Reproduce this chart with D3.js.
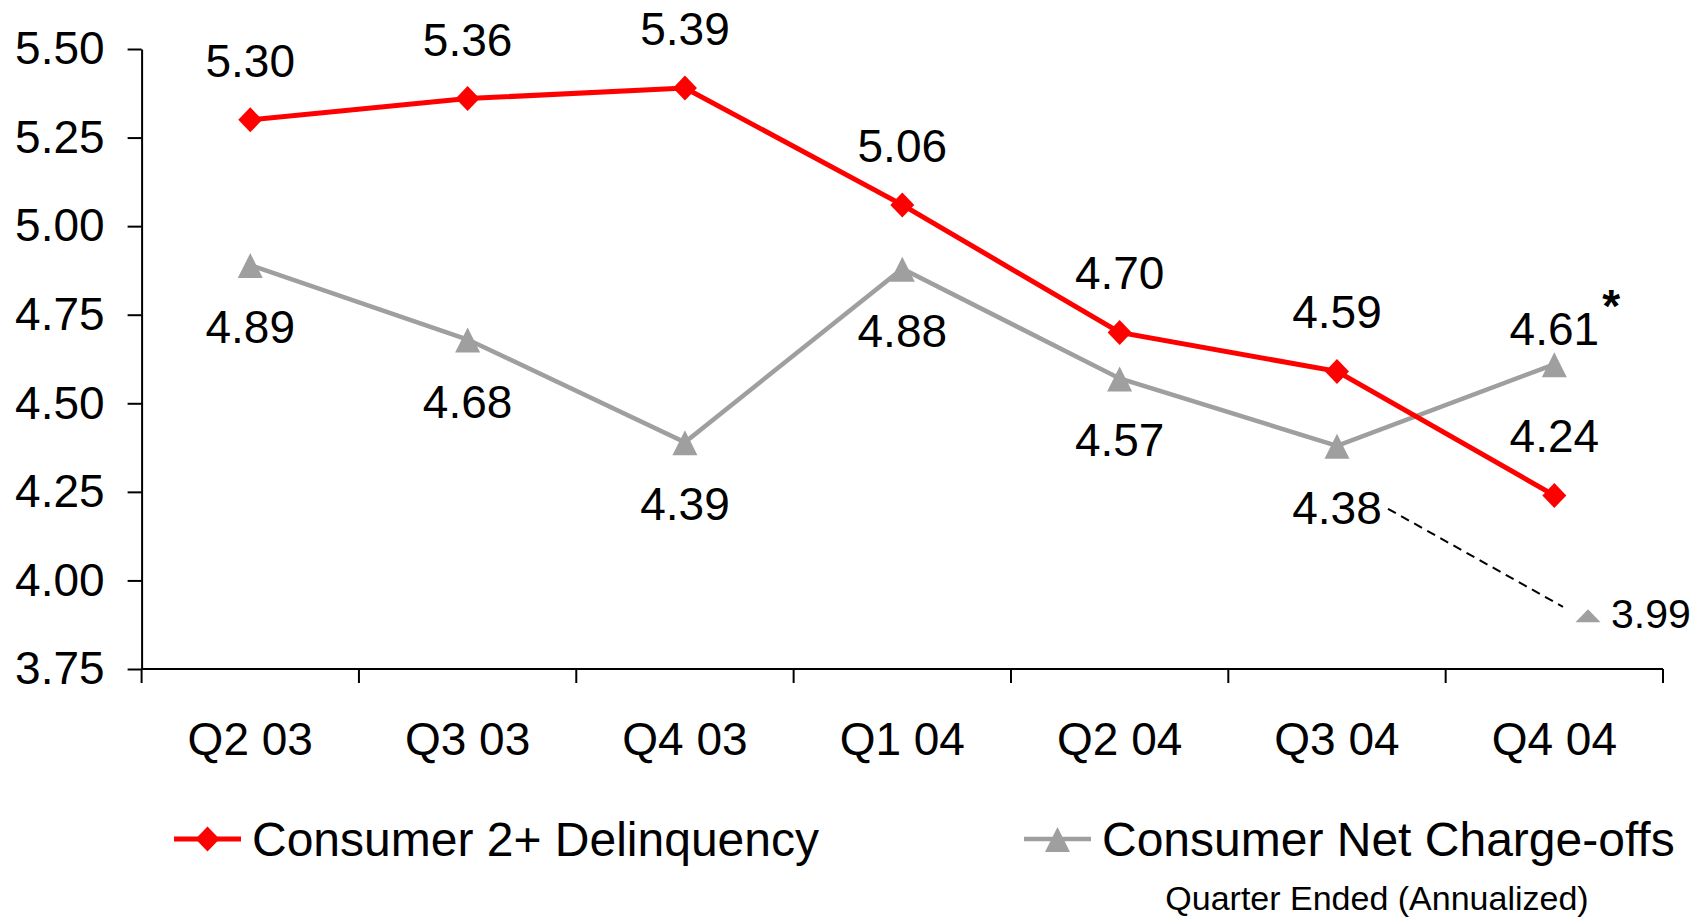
<!DOCTYPE html>
<html>
<head>
<meta charset="utf-8">
<style>
  body { margin: 0; background: #fff; }
  text { font-family: "Liberation Sans", Arial, sans-serif; fill: #000; }
  .axis path, .axis line { stroke: #000; stroke-width: 2; }
</style>
</head>
<body>
<svg id="chart" width="1708" height="917"></svg>
<script src="https://cdn.jsdelivr.net/npm/d3@7"></script>
<script>
const quarters = ["Q2 03", "Q3 03", "Q4 03", "Q1 04", "Q2 04", "Q3 04", "Q4 04"]
const delinquency = [5.30, 5.36, 5.39, 5.06, 4.70, 4.59, 4.24]
const chargeOffs = [4.89, 4.68, 4.39, 4.88, 4.57, 4.38, 4.61]
const yTicks = [3.75, 4.00, 4.25, 4.50, 4.75, 5.00, 5.25, 5.50]
const seriesNames = ["Consumer 2+ Delinquency", "Consumer Net Charge-offs"]
// side note on Q4 04 charge-offs (marker drawn low, labelled 3.99)
const noteLabel = "3.99"
const notePlotValue = 3.90
const footnote = "Quarter Ended (Annualized)"

const red = "#ff0000", gray = "#9f9f9f"
const svg = d3.select("#chart")
const plotL = 141.6, plotR = 1663, plotT = 49, plotB = 669

const x = d3.scaleBand().domain(quarters).range([plotL, plotR])
const xc = q => x(q) + x.bandwidth() / 2
const y = d3.scaleLinear().domain([3.75, 5.50]).range([plotB, plotT])

// y axis
svg.append("g").attr("class", "axis")
  .attr("transform", `translate(${plotL},0)`)
  .call(d3.axisLeft(y).tickValues(yTicks).tickFormat(d3.format(".2f"))
    .tickSize(14).tickSizeOuter(0).tickPadding(23))
  .call(g => g.selectAll("text").style("font-size", "46px")
    .style("font-family", '"Liberation Sans", Arial, sans-serif'))

// x axis: line, ticks at band edges, labels at centres
const xg = svg.append("g").attr("class", "axis")
xg.append("line").attr("x1", plotL).attr("x2", plotR).attr("y1", plotB).attr("y2", plotB)
const edges = quarters.map(q => x(q)).concat([x(quarters[quarters.length - 1]) + x.bandwidth()])
xg.selectAll(".tk").data(edges).enter().append("line")
  .attr("x1", d => d).attr("x2", d => d).attr("y1", plotB).attr("y2", plotB + 14)
xg.selectAll(".lbl").data(quarters).enter().append("text")
  .attr("x", d => xc(d)).attr("y", plotB + 86)
  .attr("text-anchor", "middle").style("font-size", "46px").text(d => d)

const diamond = "M0,-12.5L12,0L0,12.5L-12,0Z"
const triangle = "M0,-12L12.5,13L-12.5,13Z"
const smallTri = "M0,-6.5L12.5,6.5L-12.5,6.5Z"

const line = d3.line().x((d, i) => xc(quarters[i])).y(d => y(d))

// charge-offs
svg.append("path").datum(chargeOffs).attr("d", line)
  .attr("fill", "none").attr("stroke", gray).attr("stroke-width", 4.5)
svg.selectAll(".tri").data(chargeOffs).enter().append("path")
  .attr("d", triangle).attr("fill", gray)
  .attr("transform", (d, i) => `translate(${xc(quarters[i])},${y(d)})`)
svg.selectAll(".clbl").data(chargeOffs).enter().append("text")
  .attr("x", (d, i) => xc(quarters[i]))
  .attr("y", (d, i) => i === quarters.length - 1 ? y(d) - 19 : y(d) + 78)
  .attr("text-anchor", "middle").style("font-size", "46px")
  .text(d => d.toFixed(2))

// delinquency
svg.append("path").datum(delinquency).attr("d", line)
  .attr("fill", "none").attr("stroke", red).attr("stroke-width", 5)
svg.selectAll(".dia").data(delinquency).enter().append("path")
  .attr("d", diamond).attr("fill", red)
  .attr("transform", (d, i) => `translate(${xc(quarters[i])},${y(d)})`)
svg.selectAll(".dlbl").data(delinquency).enter().append("text")
  .attr("x", (d, i) => xc(quarters[i])).attr("y", d => y(d) - 43)
  .attr("text-anchor", "middle").style("font-size", "46px")
  .text(d => d.toFixed(2))

// asterisk next to last charge-off label
const lastQ = quarters[quarters.length - 1]
const lastC = chargeOffs[chargeOffs.length - 1]
svg.append("text").attr("x", xc(lastQ) + 48).attr("y", y(lastC) - 42)
  .style("font-size", "46px").style("font-weight", "bold").text("*")

// side note: dashed leader from Q3 04 label to the small marker
const prevQ = quarters[quarters.length - 2]
const prevC = chargeOffs[chargeOffs.length - 2]
const nx = xc(lastQ) + x.bandwidth() * 0.155
const ny = y(notePlotValue)
svg.append("line")
  .attr("x1", xc(prevQ) + 51).attr("y1", y(prevC) + 63)
  .attr("x2", nx - 25).attr("y2", ny - 9)
  .attr("stroke", "#000").attr("stroke-width", 2).attr("stroke-dasharray", "9,6")
svg.append("path").attr("d", smallTri).attr("fill", gray)
  .attr("transform", `translate(${nx},${ny})`)
svg.append("text").attr("x", nx + 23).attr("y", ny + 12)
  .style("font-size", "41px").text(noteLabel)

// legend
const legY = 839
const leg = [
  {name: seriesNames[0], color: red, shape: diamond, x0: 174, w: 5},
  {name: seriesNames[1], color: gray, shape: triangle, x0: 1024, w: 4.5}
]
leg.forEach(l => {
  svg.append("line").attr("x1", l.x0).attr("x2", l.x0 + 67).attr("y1", legY).attr("y2", legY)
    .attr("stroke", l.color).attr("stroke-width", l.w)
  svg.append("path").attr("d", l.shape).attr("fill", l.color)
    .attr("transform", `translate(${l.x0 + 33.5},${legY})`)
  svg.append("text").attr("x", l.x0 + 78).attr("y", legY + 17)
    .style("font-size", "48px").text(l.name)
})
svg.append("text").attr("x", 1377).attr("y", 910).attr("text-anchor", "middle")
  .style("font-size", "34px").text(footnote)
</script>
</body>
</html>
